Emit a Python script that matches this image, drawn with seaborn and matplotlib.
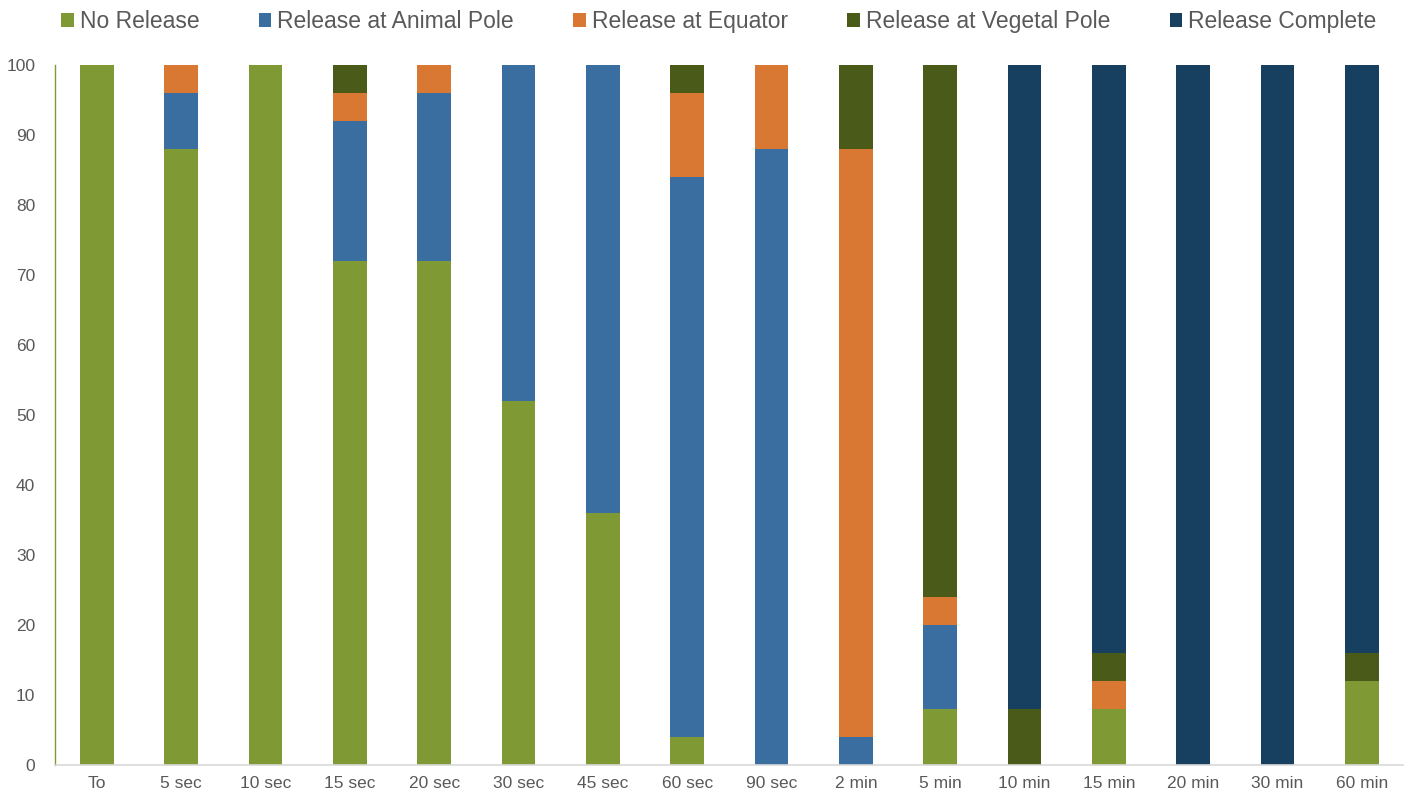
import numpy as np
import pandas as pd
import matplotlib
matplotlib.use('Agg')
import matplotlib.pyplot as plt
import seaborn as sns

# Data (percent of embryos)
times = ['To', '5 sec', '10 sec', '15 sec', '20 sec', '30 sec', '45 sec', '60 sec',
         '90 sec', '2 min', '5 min', '10 min', '15 min', '20 min', '30 min', '60 min']
no_release = [100, 88, 100, 72, 72, 52, 36, 4, 0, 0, 8, 0, 8, 0, 0, 12]
animal_pole = [0, 8, 0, 20, 24, 48, 64, 80, 88, 4, 12, 0, 0, 0, 0, 0]
equator = [0, 4, 0, 4, 4, 0, 0, 12, 12, 84, 4, 0, 4, 0, 0, 0]
vegetal_pole = [0, 0, 0, 4, 0, 0, 0, 4, 0, 12, 76, 8, 4, 0, 0, 4]
complete = [0, 0, 0, 0, 0, 0, 0, 0, 0, 0, 0, 92, 84, 100, 100, 84]

series = ['No Release', 'Release at Animal Pole', 'Release at Equator',
          'Release at Vegetal Pole', 'Release Complete']
colors = ['#7F9A34', '#3A6EA0', '#D97832', '#4A5A18', '#173F5F']

df = pd.DataFrame({'time': times,
                   'No Release': no_release,
                   'Release at Animal Pole': animal_pole,
                   'Release at Equator': equator,
                   'Release at Vegetal Pole': vegetal_pole,
                   'Release Complete': complete})

sns.set_style('white')
plt.rcParams['font.family'] = ['Liberation Sans', 'DejaVu Sans']

fig = plt.figure(figsize=(14.04, 7.98), dpi=100)
ax = fig.add_axes([0.039, 0.041, 0.961, 0.878])

bottom = np.zeros(len(times))
for name, col in zip(series, colors):
    sns.barplot(data=df, x='time', y=name, color=col, width=0.4,
                bottom=bottom, label=name, ax=ax, saturation=1, linewidth=0)
    bottom = bottom + df[name].values

ax.set_ylim(0, 100)
ax.set_xlim(-0.5, len(times) - 0.5)
ax.set_yticks(range(0, 101, 10))
ax.set_xlabel('')
ax.set_ylabel('')
ax.tick_params(axis='both', length=0, labelsize=12.5, colors='#595959')
ax.tick_params(axis='x', pad=8)
ax.tick_params(axis='y', pad=14)
for s in ['top', 'right']:
    ax.spines[s].set_visible(False)
ax.spines['left'].set_color('#7F9A34')
ax.spines['left'].set_linewidth(1.0)
ax.spines['bottom'].set_color('#D9D9D9')
ax.spines['bottom'].set_linewidth(1.2)

handles, labels = ax.get_legend_handles_labels()
if ax.get_legend() is not None:
    ax.get_legend().remove()
fig.legend(handles, labels, loc='upper left', bbox_to_anchor=(0.029, 1.013),
           ncol=5, frameon=False, fontsize=16.5, handlelength=0.55, handleheight=0.55,
           handletextpad=0.25, columnspacing=2.6, labelcolor='#595959')

fig.savefig('out.png', dpi=100)
